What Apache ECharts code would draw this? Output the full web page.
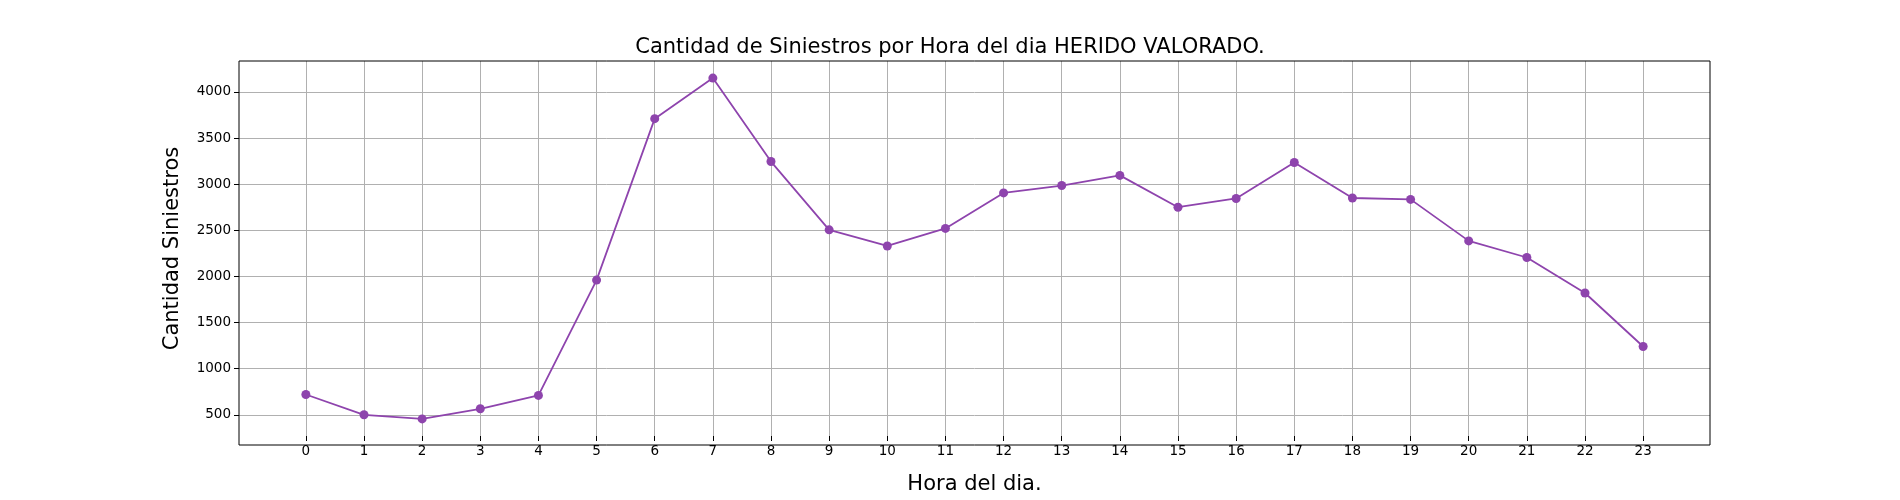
<!DOCTYPE html>
<html>
<head>
<meta charset="utf-8">
<script src="https://cdn.jsdelivr.net/npm/echarts@6/dist/echarts.min.js"></script>
<style>html,body{margin:0;padding:0;background:#fff}#chart{width:1900px;height:500px}</style>
</head>
<body>
<div id="chart"></div>
<script>
const hours = [0, 1, 2, 3, 4, 5, 6, 7, 8, 9, 10, 11, 12, 13, 14, 15, 16, 17, 18, 19, 20, 21, 22, 23];
const siniestros = [720, 500, 455, 565, 710, 1960, 3710, 4150, 3245, 2505, 2330, 2520, 2905, 2985, 3095, 2750, 2845, 3235, 2850, 2835, 2385, 2205, 1820, 1240];
const yTicks = [500, 1000, 1500, 2000, 2500, 3000, 3500, 4000];

const font = 'DejaVu Sans';
const chart = echarts.init(document.getElementById('chart'));
chart.setOption({
    animation: false,
    textStyle: {fontFamily: font},
    title: {
        text: 'Cantidad de Siniestros por Hora del dia HERIDO VALORADO.',
        left: 'center',
        top: 32,
        textStyle: {fontFamily: font, fontSize: 21, fontWeight: 'normal', color: '#000'}
    },
    grid: {left: 239, right: 190, top: 61, bottom: 55},
    xAxis: {
        type: 'value',
        min: -1.15,
        max: 24.15,
        name: 'Hora del dia.',
        nameLocation: 'middle',
        nameGap: 38,
        nameTextStyle: {fontSize: 21, color: '#000'},
        axisLine: {show: false, onZero: false},
        axisTick: {customValues: hours, length: 5, lineStyle: {color: '#000'}},
        axisLabel: {customValues: hours, color: '#000', fontSize: 13.5, margin: 8},
        splitLine: {show: true, lineStyle: {color: '#b0b0b0'}}
    },
    yAxis: {
        type: 'value',
        min: 270,
        max: 4335,
        name: 'Cantidad Siniestros',
        nameLocation: 'middle',
        nameGap: 56,
        nameTextStyle: {fontSize: 21, color: '#000'},
        axisLine: {show: false, onZero: false},
        axisTick: {show: true, customValues: yTicks, length: 5, lineStyle: {color: '#000'}},
        axisLabel: {customValues: yTicks, color: '#000', fontSize: 13.5, margin: 8, formatter: v => String(v)},
        splitLine: {show: true, lineStyle: {color: '#b0b0b0'}}
    },
    series: [{
        type: 'line',
        data: hours.map((h, i) => [h, siniestros[i]]),
        symbol: 'circle',
        symbolSize: 9,
        color: '#8e44ad',
        lineStyle: {width: 1.8}
    }],
    graphic: [{
        type: 'rect',
        shape: {x: 239, y: 61, width: 1471, height: 384},
        style: {fill: 'none', stroke: '#000', lineWidth: 1},
        silent: true,
        z: 100
    }]
});
</script>
</body>
</html>
